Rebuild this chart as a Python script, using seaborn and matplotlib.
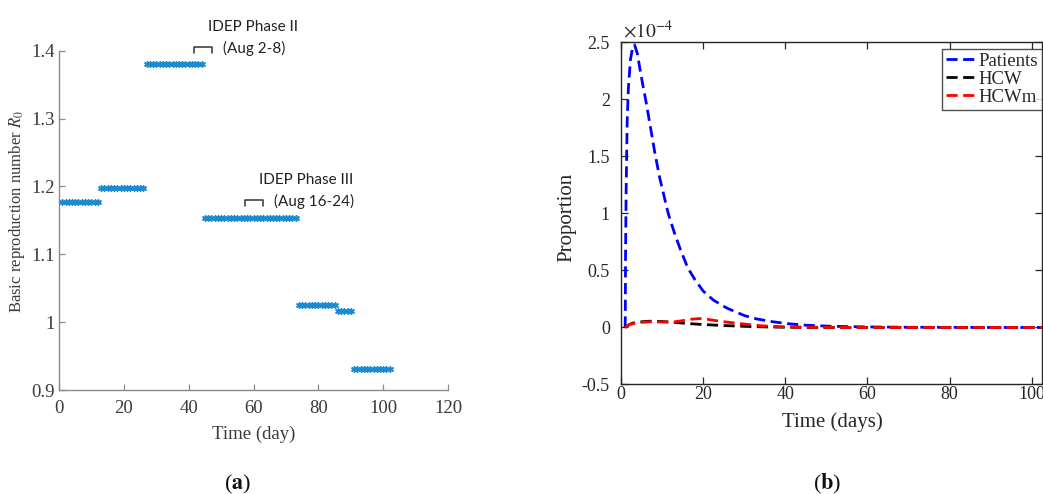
import numpy as np
import pandas as pd
import matplotlib
matplotlib.use("Agg")
import matplotlib.pyplot as plt
import seaborn as sns

# (a) piecewise R0 estimates: first day, last day, value
seg_start = [1, 13, 27, 45, 74, 86, 91]
seg_end = [12, 26, 44, 73, 85, 90, 102]
r0_values = [1.177, 1.198, 1.381, 1.153, 1.025, 1.017, 0.931]

# IDEP phase annotations: bracket x-range, bracket top, label lines
phase_labels = ["IDEP Phase II\n(Aug 2-8)", "IDEP Phase III\n(Aug 16-24)"]
phase_x0 = [41.7, 57.3]
phase_x1 = [47.1, 63.0]
phase_y = [1.406, 1.180]

# (b) proportions, in units of 1e-4
t_patients = [1.0, 1.05, 1.1, 1.25, 1.5, 1.8, 2.3, 2.8, 3.3, 4.0, 4.6, 5.3, 6.1,
              7.2, 8.3, 9.5, 10.5, 11.5, 13, 14.5, 16.3, 18, 20, 22.5, 25.8,
              30, 33, 37, 41, 45, 50, 55, 60, 70, 80, 90, 102.5]
patients = [0.0, 0.1, 0.6, 1.2, 1.8, 2.1, 2.35, 2.45, 2.48, 2.4, 2.27, 2.13, 1.98,
            1.75, 1.52, 1.3, 1.15, 1.0, 0.83, 0.68, 0.52, 0.42, 0.32, 0.24, 0.17,
            0.105, 0.075, 0.05, 0.032, 0.02, 0.012, 0.008, 0.005, 0.002, 0.001, 0.0, 0.0]
t_hcw = [1, 2, 3, 5, 7, 10, 13, 16, 20, 25, 30, 35, 40, 50, 102.5]
hcw = [0.0, 0.025, 0.04, 0.05, 0.055, 0.052, 0.045, 0.035, 0.026, 0.017,
       0.01, 0.005, 0.002, 0.0, 0.0]
t_hcwm = [1, 2, 3, 5, 7, 10, 13, 15, 17, 19, 21, 24, 27, 30, 34, 38, 42, 50, 60, 102.5]
hcwm = [0.0, 0.025, 0.035, 0.045, 0.05, 0.048, 0.05, 0.06, 0.072, 0.078, 0.072,
        0.055, 0.042, 0.03, 0.015, 0.008, 0.004, 0.001, 0.0, 0.0]

sns.set_theme(style="white")
plt.rcParams["font.family"] = ["Liberation Serif", "DejaVu Serif"]
plt.rcParams["mathtext.fontset"] = "stix"
plt.rcParams["axes.unicode_minus"] = False

fig = plt.figure(figsize=(10.43, 4.94), dpi=100)

# ---------------- (a) ----------------
ax1 = fig.add_axes([0.0566, 0.2105, 0.373, 0.6868])
rows = []
for s, e, v in zip(seg_start, seg_end, r0_values):
    for d in range(s, e + 1):
        rows.append({"day": d, "r0": v})
df_r0 = pd.DataFrame(rows)
sns.scatterplot(data=df_r0, x="day", y="r0", ax=ax1, marker=(6, 2, 0), s=16,
                color="#1c8ad0", edgecolor="#1c8ad0", linewidth=1.1, legend=False)
ax1.set_xlim(0, 120)
ax1.set_ylim(0.9, 1.4)
ax1.set_xticks(np.arange(0, 121, 20))
ax1.set_yticks([0.9, 1.0, 1.1, 1.2, 1.3, 1.4])
ax1.set_yticklabels(["0.9", "1", "1.1", "1.2", "1.3", "1.4"])
sns.despine(ax=ax1)
for side in ["left", "bottom"]:
    ax1.spines[side].set_color("#8a8a8a")
    ax1.spines[side].set_linewidth(1.0)
ax1.tick_params(direction="in", length=4, width=0.9, color="#8a8a8a",
                labelsize=13.5, labelcolor="#3a3a3a", left=True, bottom=True)
ax1.tick_params(axis="x", pad=7)
ax1.tick_params(axis="y", pad=3)
ax1.set_xlabel("Time (day)", fontsize=13.5, color="#3a3a3a")
ax1.set_ylabel("Basic reproduction number $R_0$", fontsize=12, color="#3a3a3a")
ax1.xaxis.set_label_coords(0.5, -0.13)
ax1.xaxis.label.set_va("center")
ax1.yaxis.set_label_coords(-0.108, 0.527)
ax1.yaxis.label.set_va("center")

for lab, x0, x1, y in zip(phase_labels, phase_x0, phase_x1, phase_y):
    ax1.plot([x0, x0, x1, x1], [y - 0.009, y, y, y - 0.009], color="#333333",
             lw=1.1, clip_on=False)
    top, bottom = lab.split("\n")
    ax1.text(x1 - 1.2, y + 0.029, top, fontsize=11, family=["Lato", "DejaVu Sans"],
             color="#222222", ha="left", va="center")
    ax1.text(x1 + 3.4, y - 0.002, bottom, fontsize=11, family=["Lato", "DejaVu Sans"],
             color="#222222", ha="left", va="center")

# ---------------- (b) ----------------
ax2 = fig.add_axes([0.5954, 0.2217, 0.4036, 0.6923])
dash = (0, (4, 2))
sns.lineplot(x=t_patients, y=patients, ax=ax2, color="#0000ff", lw=2.0,
             linestyle=dash, label="Patients")
sns.lineplot(x=t_hcw, y=hcw, ax=ax2, color="black", lw=2.0, linestyle=dash, label="HCW")
sns.lineplot(x=t_hcwm, y=hcwm, ax=ax2, color="#ff0000", lw=2.0, linestyle=dash, label="HCWm")
ax2.set_xlim(0, 102.5)
ax2.set_ylim(-0.5, 2.5)
ax2.set_xticks([0, 20, 40, 60, 80, 100])
ax2.set_yticks([-0.5, 0, 0.5, 1, 1.5, 2, 2.5])
ax2.set_yticklabels(["-0.5", "0", "0.5", "1", "1.5", "2", "2.5"])
for sp in ax2.spines.values():
    sp.set_color("#262626")
    sp.set_linewidth(1.0)
ax2.tick_params(direction="in", length=5, width=0.9, color="#262626",
                labelsize=13, labelcolor="#262626",
                left=True, bottom=True, top=True, right=True)
ax2.tick_params(axis="x", pad=1)
ax2.tick_params(axis="y", pad=8)
ax2.set_xlabel("Time (days)", fontsize=15, color="#262626")
ax2.set_ylabel("Proportion", fontsize=15, color="#262626")
ax2.xaxis.set_label_coords(0.501, -0.11)
ax2.xaxis.label.set_va("center")
ax2.yaxis.set_label_coords(-0.128, 0.49)
ax2.yaxis.label.set_va("center")
ax2.text(0.005, 1.035, r"$\times10^{-4}$", transform=ax2.transAxes, fontsize=14,
         color="#262626", ha="left", va="center")
leg = ax2.legend(loc="upper right", bbox_to_anchor=(1.0, 0.981), borderaxespad=0,
                 fontsize=13.5, handlelength=1.6, handletextpad=0.15,
                 borderpad=0.2, labelspacing=0.05, frameon=True, fancybox=False)
leg.get_frame().set_edgecolor("#262626")
leg.get_frame().set_linewidth(1.0)

fig.text(238 / 1043, 1 - 484 / 494, r"($\mathbf{a}$)", fontsize=16, ha="center",
         va="center", color="#111111")
fig.text(827 / 1043, 1 - 484 / 494, r"($\mathbf{b}$)", fontsize=16, ha="center",
         va="center", color="#111111")

fig.savefig("out.png", dpi=100)
